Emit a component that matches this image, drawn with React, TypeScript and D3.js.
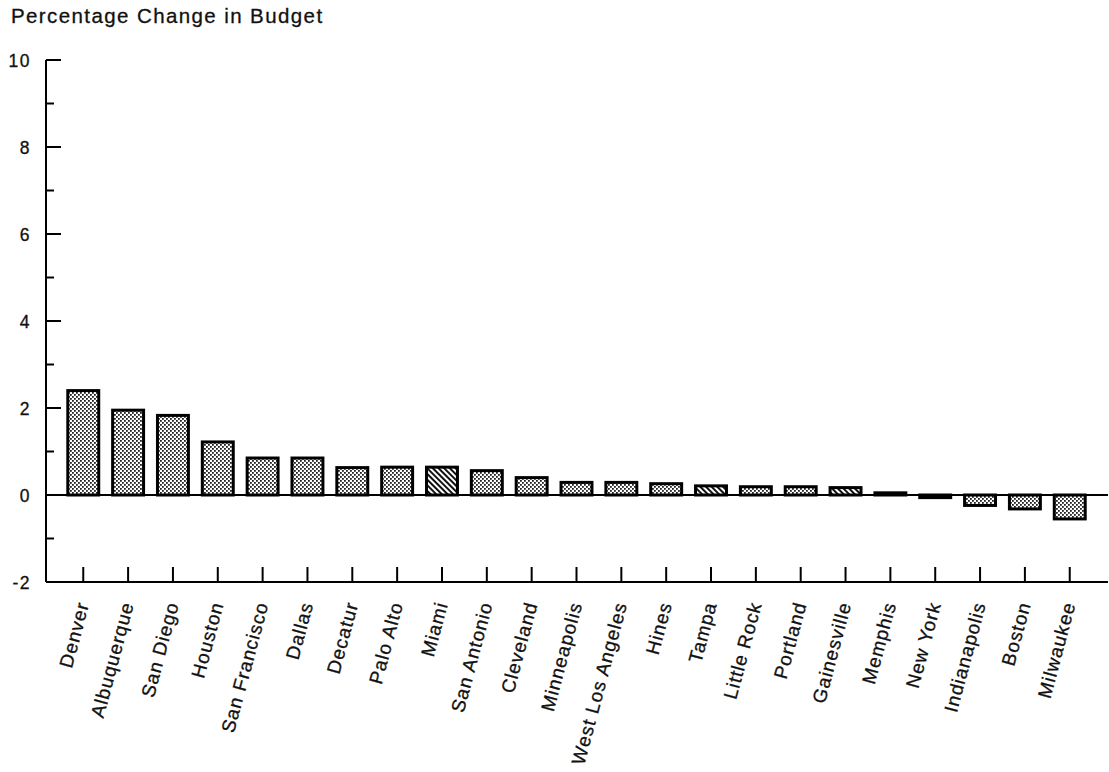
import * as React from "react";
import * as d3 from "d3";

const cities = [
  "Denver", "Albuquerque", "San Diego", "Houston", "San Francisco", "Dallas",
  "Decatur", "Palo Alto", "Miami", "San Antonio", "Cleveland", "Minneapolis",
  "West Los Angeles", "Hines", "Tampa", "Little Rock", "Portland", "Gainesville",
  "Memphis", "New York", "Indianapolis", "Boston", "Milwaukee",
];

const budgetChange = [
  2.4, 1.95, 1.83, 1.22, 0.85, 0.85, 0.63, 0.64, 0.64, 0.56, 0.4, 0.29,
  0.29, 0.26, 0.21, 0.19, 0.19, 0.17, 0.05, -0.06, -0.24, -0.32, -0.55,
];

// bars drawn with the diagonal hatch instead of the stipple
const hatchedCities = ["Miami", "Tampa", "Gainesville"];

const majorTicks = [-2, 0, 2, 4, 6, 8, 10];
const minorTicks = [-1, 1, 3, 5, 7, 9];

const title = "Percentage Change in Budget";

const W = 1109;
const H = 772;
const font = "'Liberation Sans', Arial, Helvetica, sans-serif";

const BudgetChart = () => {
  const data = cities.map((c, i) => ({ city: c, value: budgetChange[i] }));

  const x = React.useMemo(
    () =>
      d3
        .scaleBand()
        .domain(cities)
        .range([46, 1107])
        .paddingInner(0.31)
        .paddingOuter(0.486),
    []
  );

  const y = React.useMemo(
    () => d3.scaleLinear().domain([-2, 10]).range([582, 60]),
    []
  );

  const bars = data.map((d) => {
    const top = y(Math.max(0, d.value));
    const bottom = y(Math.min(0, d.value));
    const hatched = hatchedCities.includes(d.city);
    return (
      <rect
        key={d.city}
        x={x(d.city)}
        y={top}
        width={x.bandwidth()}
        height={Math.max(1, bottom - top)}
        fill={hatched ? "url(#hatch)" : "url(#stipple)"}
        stroke="#000"
        strokeWidth={3}
      />
    );
  });

  // scanned type is heavy, a thin outline thickens the glyphs a bit
  const textStyle = { fontFamily: font, fill: "#111", stroke: "#111", strokeWidth: 0.3 };

  return (
    <svg
      width={W}
      height={H}
      style={{ position: "absolute", left: 0, top: 0, background: "#fff" }}
    >
      <defs>
        <pattern id="stipple" width={4} height={4} patternUnits="userSpaceOnUse">
          <rect width={4} height={4} fill="#fff" />
          <rect x={0} y={0} width={1.8} height={1.8} fill="#222" />
          <rect x={2} y={2} width={1.8} height={1.8} fill="#222" />
        </pattern>
        <pattern
          id="hatch"
          width={4}
          height={4}
          patternUnits="userSpaceOnUse"
          patternTransform="rotate(45)"
        >
          <rect width={4} height={4} fill="#fff" />
          <rect x={0} y={0} width={4} height={2} fill="#111" />
        </pattern>
      </defs>

      <text x={11} y={22.5} fontSize={20.5} letterSpacing={1.4} style={textStyle}>
        {title}
      </text>

      {/* y axis */}
      <line x1={46} x2={46} y1={y(10)} y2={y(-2)} stroke="#000" strokeWidth={2} />
      {majorTicks.map((t) => (
        <g key={t}>
          <line x1={46} x2={61} y1={y(t)} y2={y(t)} stroke="#000" strokeWidth={2} />
          <text
            x={31}
            y={y(t) + 6.5}
            textAnchor="end"
            fontSize={17.5}
            letterSpacing={1.5}
            style={textStyle}
          >
            {t}
          </text>
        </g>
      ))}
      {minorTicks.map((t) => (
        <line key={t} x1={46} x2={54} y1={y(t)} y2={y(t)} stroke="#000" strokeWidth={2} />
      ))}

      {bars}

      {/* zero line */}
      <line x1={46} x2={1108} y1={y(0)} y2={y(0)} stroke="#000" strokeWidth={2} />

      {/* bottom axis */}
      <line x1={46} x2={1108} y1={y(-2)} y2={y(-2)} stroke="#000" strokeWidth={2} />
      {cities.map((c) => {
        const cx = (x(c) ?? 0) + x.bandwidth() / 2;
        return (
          <g key={c}>
            <line x1={cx} x2={cx} y1={y(-2)} y2={y(-2) - 15} stroke="#000" strokeWidth={2} />
            <text
              transform={`translate(${cx + 6},604) rotate(-75)`}
              textAnchor="end"
              fontSize={19}
              letterSpacing={1}
              style={textStyle}
            >
              {c}
            </text>
          </g>
        );
      })}
    </svg>
  );
};

export default function App() {
  return <BudgetChart />;
}
